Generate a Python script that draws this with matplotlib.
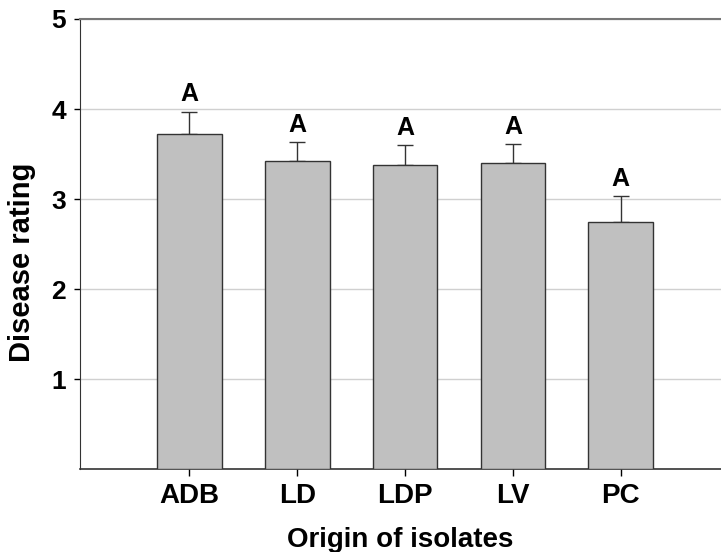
import matplotlib
matplotlib.use("Agg")
import matplotlib.pyplot as plt
import numpy as np

# data
origins = ["ADB", "LD", "LDP", "LV", "PC"]
rating = [3.72, 3.42, 3.38, 3.40, 2.74]
err = [0.25, 0.21, 0.22, 0.21, 0.29]
letters = ["A", "A", "A", "A", "A"]

plt.rcParams['font.family'] = ['Liberation Sans', 'DejaVu Sans']
plt.rcParams['font.weight'] = 'bold'

fig = plt.figure(figsize=(7.21, 5.52), dpi=100)
ax = fig.add_axes([0.111, 0.150, 0.889, 0.8156])

x = np.arange(len(origins))
ax.bar(x, rating, width=0.6, color='#c0c0c0', edgecolor='#333333', linewidth=1.0, zorder=3)
ax.errorbar(x, rating, yerr=[np.zeros(len(err)), err], fmt='none', ecolor='#333333',
            elinewidth=1.0, capsize=6, capthick=1.0, zorder=2)

for xi, r, e, lab in zip(x, rating, err, letters):
    ax.text(xi, r + e + 0.06, lab, ha='center', va='bottom', fontsize=18,
            fontweight='bold')

ax.set_xlim(-1.015, 4.93)
ax.set_ylim(0, 5)
ax.set_yticks([1, 2, 3, 4, 5])
ax.set_xticks(x)
ax.set_xticklabels(origins, fontsize=20, fontweight='bold')
ax.tick_params(axis='y', labelsize=19, length=4, width=1, pad=6)
ax.tick_params(axis='x', length=5, width=1, pad=5)

ax.grid(axis='y', color='#d0d0d0', linewidth=1.0, zorder=0)
ax.set_axisbelow(True)
ax.spines['right'].set_visible(False)
ax.spines['top'].set_color('#777777')
ax.spines['top'].set_linewidth(1.5)
ax.spines['left'].set_color('#333333')
ax.spines['bottom'].set_color('#333333')
ax.spines['bottom'].set_linewidth(1.2)

ax.set_ylabel("Disease rating", fontsize=21, fontweight='bold')
ax.yaxis.set_label_coords(-0.068, 0.46)
ax.set_xlabel("Origin of isolates", fontsize=20, fontweight='bold', labelpad=13)

fig.savefig("out.png", dpi=100)
